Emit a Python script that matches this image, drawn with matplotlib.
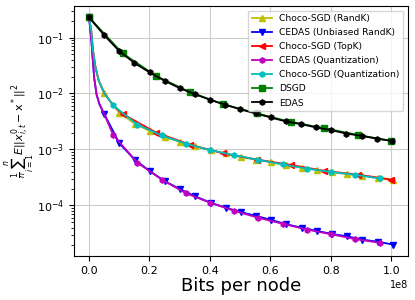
import matplotlib
matplotlib.use("Agg")
import matplotlib.pyplot as plt

# bits per node (in units of 1e8) and error values
x_randk = [0.05025 * k for k in range(21)]
x_quant = [0.0801 * k for k in range(13)]
x_topk = [k / 9.0 for k in range(10)]
x_edas = [0.0501 * k for k in range(21)]
x_dsgd = [k / 9.0 for k in range(10)]

# unmarked points describing the steep start of the curves
x_choco_head = [0.007, 0.013, 0.021, 0.032]
y_choco_head = [0.135, 0.059, 0.030, 0.017]
x_cedas_head = [0.004, 0.008, 0.012, 0.017, 0.025, 0.035]
y_cedas_head = [0.14, 0.085, 0.042, 0.019, 0.0095, 0.0063]

y_choco_randk = [0.229, 0.0101, 0.0045, 0.0029, 0.00212, 0.00166, 0.00137, 0.00113,
                 0.00097, 0.00085, 0.00073, 0.00066, 0.00059, 0.00052, 0.00047,
                 0.00043, 0.000395, 0.00036, 0.00034, 0.00031, 0.00028]
y_cedas_randk = [0.229, 0.0043, 0.00128, 0.00066, 0.00041, 0.00027, 0.000195, 0.000145,
                 0.000112, 9.1e-5, 7.6e-5, 6.5e-5, 5.5e-5, 4.6e-5, 4.0e-5, 3.5e-5,
                 3.1e-5, 2.8e-5, 2.45e-5, 2.25e-5, 2.0e-5]
y_choco_topk = [0.229, 0.0043, 0.0020, 0.00122, 0.00085, 0.00066, 0.00053, 0.000415,
                0.000355, 0.00029]
y_cedas_quant = [0.229, 0.0018, 0.00058, 0.00029, 0.000165, 0.000112, 8.0e-5, 6.0e-5,
                 4.7e-5, 3.7e-5, 3.05e-5, 2.5e-5, 2.15e-5]
y_choco_quant = [0.229, 0.0061, 0.00277, 0.00178, 0.00127, 0.00097, 0.00079, 0.00065,
                 0.00054, 0.000455, 0.000397, 0.000352, 0.000303]
y_dsgd = [0.229, 0.052, 0.0205, 0.0106, 0.0064, 0.0044, 0.0031, 0.0024, 0.00182, 0.00142]
y_edas = [0.229, 0.11, 0.057, 0.035, 0.0238, 0.0168, 0.0124, 0.0097, 0.0077, 0.0063,
          0.0052, 0.0044, 0.00373, 0.00316, 0.00284, 0.00247, 0.00221, 0.00192,
          0.00175, 0.00156, 0.00142]


def with_head(xm, ym, xh, yh):
    # insert the unmarked head points after x=0 and before the first later marker
    xh2 = [a for a in xh if a < xm[1]]
    yh2 = yh[:len(xh2)]
    xs = [xm[0]] + xh2 + list(xm[1:])
    ys = [ym[0]] + yh2 + list(ym[1:])
    marks = [0] + list(range(len(xh2) + 1, len(xs)))
    return [v * 1e8 for v in xs], ys, marks


fig = plt.figure(figsize=(4.15, 3.0), dpi=100)
ax = fig.add_axes([0.178, 0.147, 0.805, 0.833])

series = [
    (x_randk, y_choco_randk, x_choco_head + [0.05], y_choco_head + [0.0102], 'y', '^', 'Choco-SGD (RandK)'),
    (x_randk, y_cedas_randk, x_cedas_head, y_cedas_head, 'b', 'v', 'CEDAS (Unbiased RandK)'),
    (x_topk, y_choco_topk, x_choco_head + [0.05, 0.08], y_choco_head + [0.0102, 0.0061], 'r', '<', 'Choco-SGD (TopK)'),
    (x_quant, y_cedas_quant, x_cedas_head + [0.05], y_cedas_head + [0.0043], 'm', 'h', 'CEDAS (Quantization)'),
    (x_quant, y_choco_quant, x_choco_head + [0.05], y_choco_head + [0.0102], 'c', 'h', 'Choco-SGD (Quantization)'),
    (x_dsgd, y_dsgd, [], [], 'g', 's', 'DSGD'),
    (x_edas, y_edas, [], [], 'k', 'h', 'EDAS'),
]
for xm, ym, xh, yh, c, mk, lab in series:
    xs, ys, marks = with_head(xm, ym, xh, yh)
    ax.plot(xs, ys, color=c, marker=mk, markevery=marks, markersize=3.8,
            linewidth=1.3, label=lab)

ax.set_yscale('log')
ax.grid(True, color='#cccccc')
ax.tick_params(labelsize=8)
ax.xaxis.get_offset_text().set_fontsize(7)
ax.set_xlabel('Bits per node', fontsize=13, labelpad=1)
ax.set_ylabel(r'$\frac{1}{n}\sum_{i=1}^{n}E||x_{i,t}^{0}-\mathrm{x}^*||^2$', fontsize=8,
              labelpad=0)
ax.legend(loc='upper right', fontsize=6.6, handlelength=2.2, labelspacing=0.55,
          borderpad=0.4)
plt.savefig("out.png", dpi=100)
